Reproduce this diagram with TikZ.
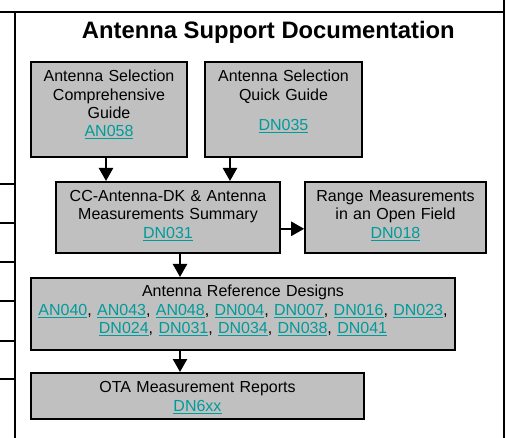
\documentclass[tikz,border=0pt]{standalone}
\usepackage{fontspec}
\setmainfont{Liberation Sans}
\usepackage{tikz}
\usetikzlibrary{arrows.meta}
\definecolor{boxgray}{RGB}{192,192,192}
\definecolor{linkteal}{RGB}{0,155,155}
\newcommand{\doclink}[1]{\textcolor{linkteal}{\underline{#1}}}

\begin{document}
\begin{tikzpicture}[x=1pt,y=-1pt,
  frame/.style={line width=2pt},
  docbox/.style={draw=black, line width=1.6pt, fill=boxgray, anchor=north,
    inner sep=0pt, align=center, font=\fontsize{16}{18.4}\selectfont},
  flow/.style={line width=2.4pt, -{Triangle[width=14pt,length=13pt]}}]
\useasboundingbox (0,0) rectangle (506,438);

% table frame around the chart
\draw[frame] (0,12) -- (504,12);
\draw[frame] (504,0) -- (504,438);
\draw[frame] (15,12) -- (15,438);
\foreach \y in {184,223,262,301,341,379}
  \draw[frame] (0,\y) -- (15,\y);

% title
\node[anchor=base, font=\fontsize{23.8}{28}\selectfont\bfseries] (title) at (268.3,38.3)
  {Antenna Support Documentation};

% document boxes
\node[docbox, text width=156pt, text height=20pt, text depth=75pt] (guide) at (109,61)
  {Antenna Selection\\Comprehensive\\Guide\\\doclink{AN058}};
\node[docbox, text width=157pt, text height=20pt, text depth=75pt] (quick) at (283.5,61)
  {Antenna Selection\\Quick Guide\\[11.6pt]\doclink{DN035}};
\node[docbox, text width=224pt, text height=19.7pt, text depth=51.3pt] (summary) at (168,181)
  {CC-Antenna-DK \& Antenna\\Measurements Summary\\\doclink{DN031}};
\node[docbox, text width=181pt, text height=19.7pt, text depth=51.3pt] (range) at (395.5,181)
  {Range Measurements\\in an Open Field\\\doclink{DN018}};
\node[docbox, text width=424pt, text height=19pt, text depth=53pt] (refdesigns) at (243,277)
  {Antenna Reference Designs\\
   \doclink{AN040}, \doclink{AN043}, \doclink{AN048}, \doclink{DN004}, \doclink{DN007}, \doclink{DN016}, \doclink{DN023},\\
   \doclink{DN024}, \doclink{DN031}, \doclink{DN034}, \doclink{DN038}, \doclink{DN041}};
\node[docbox, text width=333pt, text height=20pt, text depth=26pt] (ota) at (197.5,372)
  {OTA Measurement Reports\\\doclink{DN6xx}};

% arrows
\draw[flow] ([xshift=-3pt]guide.south) -- ([xshift=-3pt]guide.south |- summary.north);
\draw[flow] ([xshift=-53.5pt]quick.south) -- ([xshift=-53.5pt]quick.south |- summary.north);
\draw[flow] ([yshift=-11.5pt]summary.east) -- ([yshift=-11.5pt]summary.east -| range.west);
\draw[flow] ([xshift=12pt]summary.south) -- ([xshift=12pt]summary.south |- refdesigns.north);
\draw[flow] ([xshift=-63pt]refdesigns.south) -- ([xshift=-63pt]refdesigns.south |- ota.north);
\end{tikzpicture}
\end{document}
